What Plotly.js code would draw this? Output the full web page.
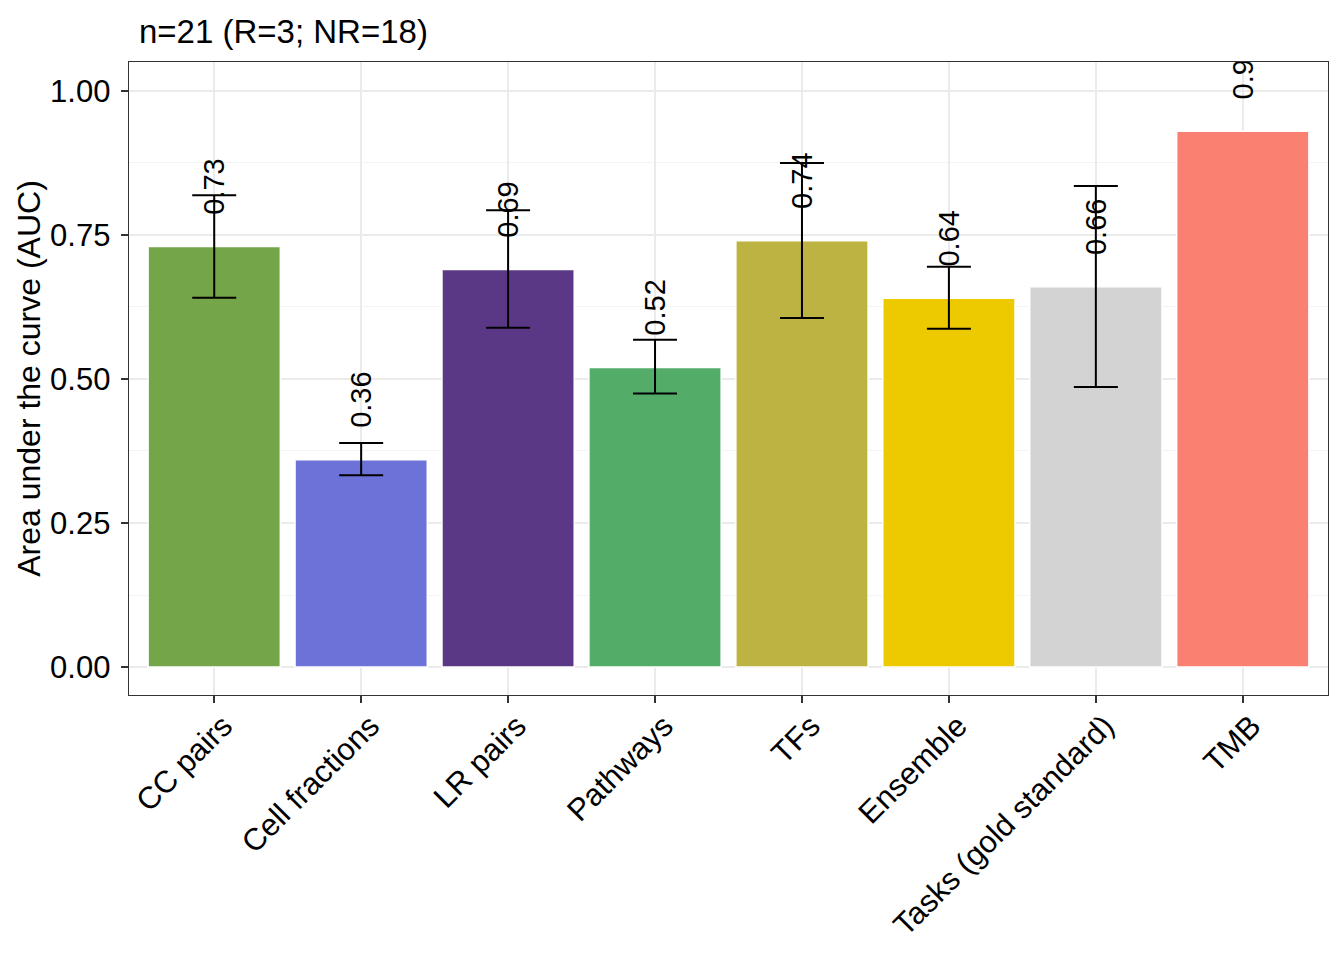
<!DOCTYPE html>
<html>
<head>
<meta charset="utf-8">
<script src="https://cdn.plot.ly/plotly-3.0.1.min.js"></script>
<style>html,body{margin:0;padding:0;background:#fff;}#chart{width:1344px;height:960px;}</style>
</head>
<body>
<div id="chart"></div>
<script>
// ---- data ----
const categories = ["CC pairs", "Cell fractions", "LR pairs", "Pathways", "TFs", "Ensemble", "Tasks (gold standard)", "TMB"];
const aucValues  = [0.73, 0.36, 0.69, 0.52, 0.74, 0.64, 0.66, 0.93];
const ciLower    = [0.641, 0.333, 0.589, 0.475, 0.606, 0.587, 0.486, null];
const ciUpper    = [0.819, 0.389, 0.793, 0.568, 0.875, 0.695, 0.835, null];
const barColors  = ["#74A548", "#6C72D8", "#5B3886", "#53AC68", "#BDB342", "#EDCA00", "#D3D3D3", "#FA8072"];
const titleText  = "n=21 (R=3; NR=18)";
const yTitle     = "Area under the curve (AUC)";
const yTicks     = [0, 0.25, 0.5, 0.75, 1.0];

// ---- chart ----
const FONT = "Liberation Sans, Arial, sans-serif";
const LABEL_NUDGE = 0.05;

const errPlus  = aucValues.map((v, i) => ciUpper[i] == null ? NaN : ciUpper[i] - v);
const errMinus = aucValues.map((v, i) => ciLower[i] == null ? NaN : v - ciLower[i]);

const bars = {
  type: "bar",
  x: categories,
  y: aucValues,
  width: 0.9,
  marker: { color: barColors, line: { color: "#FFFFFF", width: 1.5 } },
  error_y: {
    type: "data", symmetric: false,
    array: errPlus, arrayminus: errMinus,
    color: "#000000", thickness: 2, width: 22
  },
  hoverinfo: "x+y",
  showlegend: false
};

// invisible carrier for the value labels (sits on top of each bar)
const labels = {
  type: "bar",
  x: categories,
  y: aucValues.map(() => LABEL_NUDGE),
  base: aucValues,
  width: 0.9,
  marker: { color: "rgba(0,0,0,0)", line: { width: 0 } },
  text: aucValues.map(v => v.toFixed(2)),
  textposition: "outside",
  textangle: -90,
  constraintext: "none",
  cliponaxis: true,
  textfont: { family: FONT, size: 29, color: "#000000" },
  hoverinfo: "skip",
  showlegend: false
};

const layout = {
  width: 1344, height: 960,
  margin: { l: 129, r: 16, t: 62, b: 265 },
  paper_bgcolor: "#FFFFFF",
  plot_bgcolor: "#FFFFFF",
  barmode: "overlay",
  font: { family: FONT, color: "#000000" },
  title: {
    text: titleText,
    font: { family: FONT, size: 33, color: "#000000" },
    xref: "container", yref: "container",
    x: 139 / 1344, xanchor: "left",
    y: 1 - 31 / 960, yanchor: "middle"
  },
  xaxis: {
    type: "category",
    range: [-0.58, 7.58],
    showgrid: true, gridcolor: "#EBEBEB", gridwidth: 1.5,
    showline: true, mirror: true, linecolor: "#333333", linewidth: 1.4,
    ticks: "outside", ticklen: 7, tickwidth: 1.8, tickcolor: "#333333",
    tickangle: -45,
    ticklabelshift: 9,
    ticklabelstandoff: -8,
    tickfont: { family: FONT, size: 31, color: "#000000" },
    zeroline: false, fixedrange: true
  },
  yaxis: {
    range: [-0.0486, 1.0503],
    tickvals: yTicks,
    ticktext: yTicks.map(t => t.toFixed(2)),
    showgrid: true, gridcolor: "#EBEBEB", gridwidth: 1.5,
    minor: { dtick: 0.125, tick0: 0, showgrid: true, gridcolor: "#F0F0F0", gridwidth: 0.8, ticks: "" },
    showline: true, mirror: true, linecolor: "#333333", linewidth: 1.4,
    ticks: "outside", ticklen: 7, tickwidth: 1.8, tickcolor: "#333333",
    ticklabelstandoff: 4,
    tickfont: { family: FONT, size: 31, color: "#000000" },
    title: { text: yTitle, font: { family: FONT, size: 32, color: "#000000" }, standoff: 0 },
    zeroline: false, fixedrange: true
  }
};

Plotly.newPlot("chart", [bars, labels], layout, { displayModeBar: false, staticPlot: true });
</script>
</body>
</html>
